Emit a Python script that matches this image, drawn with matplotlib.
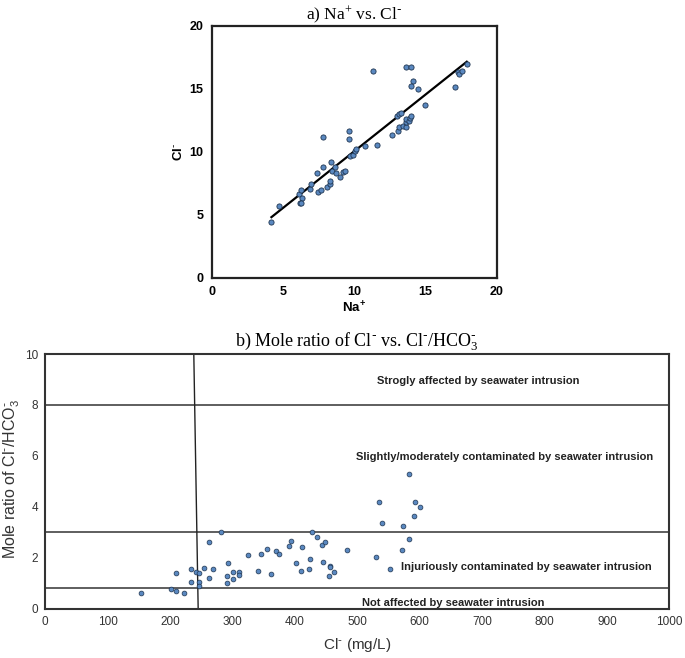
import numpy as np
import matplotlib
matplotlib.use('Agg')
import matplotlib.pyplot as plt

# a) Na+ vs Cl-
na = [4.17, 4.71, 6.11, 6.27, 6.34, 6.15, 6.27, 6.85, 6.92, 7.41, 7.62, 7.39, 7.79, 7.79,
      8.09, 8.25, 8.25, 8.35, 8.44, 8.60, 8.72, 8.95, 9.18, 9.32, 9.60, 9.60, 9.70, 9.93,
      10.02, 10.12, 10.72, 11.28, 11.59, 12.63, 13.05, 13.10, 12.96, 13.15, 13.26, 13.43,
      13.61, 13.61, 13.61, 13.85, 13.89, 13.96, 13.61, 13.99, 14.08, 13.99, 14.43, 14.94,
      17.02, 17.25, 17.34, 17.53, 17.88]
cl = [4.39, 5.69, 6.64, 6.98, 6.30, 5.93, 5.93, 7.04, 7.41, 6.83, 6.96, 8.28, 11.20, 8.81,
      7.17, 7.43, 7.65, 9.15, 8.49, 8.81, 8.28, 7.96, 8.36, 8.49, 11.64, 11.00, 9.66, 9.76,
      10.03, 10.24, 10.48, 16.43, 10.56, 11.32, 11.64, 11.93, 12.86, 12.99, 13.07, 12.06,
      11.98, 12.33, 12.59, 12.46, 12.67, 12.86, 16.69, 16.75, 15.58, 15.24, 14.97, 13.70,
      15.11, 16.35, 16.16, 16.43, 16.96]

# b) Cl- (mg/L) vs Cl-/HCO3- mole ratio
cl_mg = [154, 201, 209, 222, 209, 234, 234, 241, 247, 247, 247, 254, 262, 262, 269, 281,
         292, 292, 293, 301, 301, 310, 310, 325, 341, 345, 355, 362, 370, 375, 390, 394,
         401, 410, 411, 423, 424, 427, 435, 444, 445, 449, 454, 456, 457, 463, 484, 530,
         535, 540, 553, 572, 574, 583, 583, 591, 593, 600]
ratio = [0.60, 0.76, 0.71, 0.63, 1.40, 1.55, 1.06, 1.42, 1.39, 1.05, 0.87, 1.60, 1.22, 2.60,
         1.55, 3.01, 1.00, 1.28, 1.81, 1.42, 1.17, 1.45, 1.32, 2.12, 1.47, 2.14, 2.33, 1.35,
         2.27, 2.14, 2.45, 2.65, 1.81, 1.49, 2.42, 1.55, 1.95, 3.01, 2.83, 2.48, 1.83, 2.60,
         1.30, 1.68, 1.65, 1.44, 2.31, 2.04, 4.19, 3.36, 1.57, 2.31, 3.24, 2.75, 5.27, 3.64,
         4.17, 4.00]

limits = [0.83, 3.0, 8.0]
zone_labels = ['Not affected by seawater intrusion',
               'Injuriously contaminated by seawater intrusion',
               'Slightly/moderately contaminated by seawater intrusion',
               'Strogly affected by seawater intrusion']

sans = 'Liberation Sans'
serif = 'Liberation Serif'
pt_face = '#5a88c0'
pt_edge = '#1f3550'
SUPM = r'$\mathregular{^{\text{-}}}$'   # superscript hyphen
SUPP = r'$\mathregular{^{+}}$'

fig = plt.figure(figsize=(6.85, 6.58), dpi=100)

# ---- top panel
ax1 = fig.add_axes([0.3095, 0.578, 0.416, 0.383])
ax1.scatter(na, cl, s=14, c=pt_face, edgecolors=pt_edge, linewidths=0.6, zorder=3)
k, b = np.polyfit(na, cl, 1)
xx = np.array([min(na), max(na)])
ax1.plot(xx, k * xx + b, color='black', lw=1.6, zorder=2)
ax1.set_xlim(0, 20)
ax1.set_ylim(0, 20)
ax1.set_xticks([0, 5, 10, 15, 20])
ax1.set_yticks([0, 5, 10, 15, 20])
ax1.tick_params(length=0, pad=6, labelsize=9)
for lab in ax1.get_xticklabels() + ax1.get_yticklabels():
    lab.set_fontfamily(sans)
    lab.set_fontweight('bold')
for s in ax1.spines.values():
    s.set_linewidth(1.6)
    s.set_color('#222222')
ax1.set_xlabel('Na' + SUPP, fontfamily=sans, fontweight='bold', fontsize=9.5, labelpad=2)
ax1.set_ylabel('Cl' + SUPM, fontfamily=sans, fontweight='bold', fontsize=9.5)
ax1.yaxis.set_label_coords(-0.094, 0.5)
ax1.set_title('a) Na' + SUPP + ' vs. Cl' + SUPM, fontfamily=serif, fontsize=12.5, pad=4)

# ---- bottom panel
ax2 = fig.add_axes([0.0661, 0.075, 0.911, 0.387])
ax2.scatter(cl_mg, ratio, s=12, c=pt_face, edgecolors=pt_edge, linewidths=0.5, zorder=3)
for y in limits:
    ax2.axhline(y, color='#333333', lw=1.1, zorder=2)
ax2.plot([238, 245], [10, 0], color='#222222', lw=1.0, zorder=2)
ax2.set_xlim(0, 1000)
ax2.set_ylim(0, 10)
ax2.set_xticks(range(0, 1001, 100))
ax2.set_yticks([0, 2, 4, 6, 8, 10])
ax2.tick_params(length=0, pad=5, labelsize=8.5, labelcolor='#333333')
for lab in ax2.get_xticklabels() + ax2.get_yticklabels():
    lab.set_fontfamily(sans)
for s in ax2.spines.values():
    s.set_linewidth(1.5)
    s.set_color('#333333')
ax2.set_xlabel('Cl' + SUPM + ' (mg/L)', fontfamily=sans, fontsize=11, color='#333333', labelpad=6)
ax2.set_ylabel('Mole ratio of Cl' + SUPM + r'/HCO$\mathregular{_3^{\text{-}}}$', fontfamily=sans,
               fontsize=11.5, color='#333333')
ax2.yaxis.set_label_coords(-0.037, 0.51)
ax2.set_title('b) Mole ratio of Cl' + SUPM + ' vs. Cl' + SUPM + r'/HCO$\mathregular{_3^{\text{-}}}$',
              fontfamily=serif, fontsize=13, pad=6)

txt = dict(fontfamily=sans, fontweight='bold', fontsize=8, color='#222222', va='center')
ax2.text(654, 0.24, zone_labels[0], ha='center', **txt)
ax2.text(570, 1.63, zone_labels[1], ha='left', **txt)
ax2.text(736, 5.94, zone_labels[2], ha='center', **txt)
ax2.text(694, 8.93, zone_labels[3], ha='center', **txt)

fig.savefig('out.png', dpi=100)
